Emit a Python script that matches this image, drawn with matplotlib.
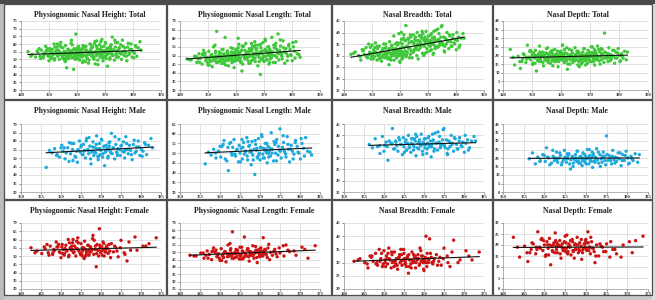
import numpy as np
import matplotlib
matplotlib.use("Agg")
import matplotlib.pyplot as plt
from matplotlib.patches import Rectangle

# ---------------- data ----------------
male_stature = [
    156.3, 157.1, 157.8, 158.4, 159.0, 159.6, 160.2, 160.5, 161.0, 161.7,
    162.1, 162.4, 162.9, 163.2, 163.5, 163.9, 164.1, 164.6, 164.8, 165.0,
    165.3, 165.6, 165.9, 166.1, 166.4, 166.7, 166.9, 167.2, 167.5, 167.8,
    168.0, 168.2, 168.5, 168.7, 168.9, 169.1, 169.3, 169.6, 169.8, 170.0,
    170.2, 170.4, 170.7, 170.9, 171.1, 171.3, 171.6, 171.8, 172.0, 172.3,
    172.6, 172.8, 173.1, 173.4, 173.7, 173.9, 174.2, 174.5, 174.8, 175.0,
    175.3, 175.6, 175.9, 176.2, 176.5, 176.8, 177.1, 177.4, 177.8, 178.1,
    178.5, 178.9, 179.3, 179.7, 180.1, 180.5, 180.9, 181.4, 181.9, 182.5,
    160.8, 163.0, 165.7, 167.0, 169.4, 171.5, 172.1, 174.0, 176.0, 182.9,
    158.9, 160.0, 161.3, 162.7, 163.7, 164.3, 165.1, 165.5, 166.3, 166.8,
    167.4, 167.9, 168.3, 168.8, 169.2, 169.7, 170.1, 170.5, 170.8, 171.2,
    171.7, 172.2, 172.5, 173.0, 173.5, 174.1, 174.6, 175.1, 175.8, 176.4,
    177.0, 177.6, 178.3, 178.8, 179.5, 180.3, 181.1, 162.0, 167.6, 171.9]

male_height = [
    44.5, 54.5, 53.0, 55.5, 52.0, 50.5, 57.5, 54.0, 49.5, 56.0,
    59.0, 52.5, 55.0, 58.5, 51.0, 54.0, 47.5, 60.0, 53.5, 56.5,
    52.0, 58.0, 54.5, 50.0, 61.5, 55.0, 52.5, 57.0, 46.5, 54.0,
    59.5, 51.5, 56.0, 53.0, 63.0, 55.5, 49.0, 58.5, 52.0, 54.5,
    60.5, 50.5, 56.5, 45.5, 53.5, 57.5, 55.0, 51.0, 59.0, 54.0,
    64.5, 52.5, 56.0, 49.5, 58.0, 53.5, 55.5, 61.0, 51.5, 57.0,
    54.0, 59.5, 50.0, 62.5, 55.0, 52.5, 57.5, 54.5, 49.0, 58.0,
    53.0, 56.5, 60.0, 51.5, 55.0, 54.0, 59.0, 52.0, 57.5, 61.5,
    56.0, 48.5, 54.0, 62.0, 51.0, 55.5, 57.0, 53.0, 54.5, 56.0,
    51.5, 56.0, 53.0, 58.5, 50.5, 55.0, 57.5, 52.0, 60.0, 54.5,
    49.5, 56.5, 53.5, 58.0, 51.0, 55.5, 61.0, 52.5, 57.0, 54.0,
    50.0, 59.5, 53.0, 56.0, 62.5, 51.5, 55.0, 57.5, 53.5, 58.5,
    55.0, 52.0, 60.5, 54.0, 56.5, 51.0, 58.0, 48.0, 53.5, 55.5]

male_length = [
    44.5, 50.5, 49.0, 52.0, 47.5, 51.0, 48.0, 53.5, 56.5, 46.0,
    41.0, 55.0, 50.0, 53.0, 57.0, 48.5, 51.5, 45.5, 54.0, 50.0,
    52.5, 47.0, 55.5, 49.5, 51.0, 58.0, 46.5, 53.5, 50.5, 44.0,
    56.0, 49.0, 52.0, 39.0, 54.5, 51.5, 48.0, 57.5, 50.0, 46.5,
    53.0, 59.5, 49.5, 52.5, 47.5, 55.0, 50.5, 45.0, 53.5, 51.0,
    48.5, 60.5, 52.0, 46.0, 54.5, 50.0, 57.0, 49.0, 51.5, 62.5,
    47.5, 53.0, 55.5, 50.5, 48.0, 58.5, 52.0, 45.5, 54.0, 51.0,
    49.5, 56.5, 53.5, 50.0, 47.0, 55.0, 52.5, 58.0, 51.0, 50.5,
    54.5, 49.0, 53.0, 56.0, 47.5, 52.0, 50.0, 55.5, 51.5, 49.0,
    50.0, 53.5, 47.0, 55.5, 49.5, 52.0, 45.5, 57.0, 51.0, 48.5,
    54.0, 50.5, 46.5, 56.5, 52.5, 49.0, 53.0, 58.5, 47.5, 51.5,
    55.0, 48.0, 52.5, 50.0, 56.0, 46.0, 53.5, 51.0, 59.0, 49.5,
    54.5, 52.0, 47.0, 55.5, 50.5, 57.5, 48.5, 53.0, 51.5, 50.0]

male_breadth = [
    36.0, 34.5, 38.5, 35.0, 32.0, 39.5, 35.5, 37.0, 29.0, 36.5,
    43.0, 34.0, 37.5, 35.5, 33.0, 38.0, 36.0, 31.5, 39.0, 35.0,
    37.0, 33.5, 36.5, 40.0, 34.5, 32.5, 38.5, 36.0, 35.0, 37.5,
    31.0, 39.5, 36.5, 34.0, 38.0, 35.5, 40.5, 33.0, 37.0, 36.0,
    34.5, 38.5, 32.0, 36.5, 39.0, 35.0, 37.5, 30.5, 36.0, 38.0,
    34.0, 41.0, 36.5, 33.5, 37.0, 39.5, 35.5, 36.0, 42.5, 43.0,
    34.5, 38.0, 31.5, 37.5, 35.0, 40.0, 36.5, 33.0, 38.5, 36.0,
    34.0, 39.0, 35.5, 37.0, 32.5, 36.5, 38.0, 34.5, 37.5, 39.5,
    35.0, 37.0, 33.5, 38.5, 36.0, 35.5, 40.5, 36.5, 34.0, 37.5,
    35.5, 33.0, 37.5, 34.0, 39.0, 36.0, 32.5, 38.0, 35.0, 36.5,
    33.5, 40.5, 34.5, 37.0, 35.5, 31.5, 38.5, 36.0, 34.0, 39.5,
    35.0, 37.5, 33.0, 36.5, 41.5, 34.5, 38.0, 35.5, 32.0, 37.0,
    36.0, 39.0, 34.0, 37.5, 35.0, 40.0, 33.5, 36.5, 38.5, 35.0]

male_depth = [
    19.5, 23.0, 16.5, 20.5, 18.5, 22.0, 18.0, 26.0, 20.0, 17.0,
    21.0, 18.5, 23.5, 17.5, 20.0, 21.5, 16.0, 19.0, 24.5, 20.5,
    17.5, 19.5, 22.5, 16.5, 19.0, 21.0, 15.0, 19.5, 22.0, 18.0,
    24.0, 18.5, 20.5, 17.0, 20.0, 15.5, 23.0, 19.0, 17.5, 21.0,
    19.5, 25.0, 16.5, 21.5, 18.5, 20.0, 14.5, 22.5, 18.0, 20.5,
    25.5, 19.0, 17.0, 22.0, 19.5, 17.5, 23.5, 21.0, 16.0, 33.0,
    18.5, 21.5, 20.0, 16.5, 24.5, 19.0, 20.5, 18.0, 23.0, 19.5,
    15.5, 22.0, 18.5, 24.0, 20.0, 17.0, 21.0, 18.5, 22.5, 17.5,
    20.5, 19.0, 21.5, 17.0, 19.5, 23.5, 18.0, 21.0, 18.5, 22.0,
    18.0, 21.5, 16.0, 20.0, 23.0, 17.5, 19.5, 22.5, 13.5, 20.5,
    19.0, 24.0, 17.0, 21.0, 18.5, 22.0, 16.5, 20.0, 25.0, 18.0,
    21.5, 17.5, 19.5, 23.5, 15.0, 20.5, 18.5, 22.0, 19.0, 21.0,
    17.0, 20.0, 23.0, 18.5, 21.5, 16.5, 19.5, 24.5, 20.0, 18.0]

female_stature = [
    142.5, 144.0, 145.2, 146.0, 146.8, 147.3, 147.9, 148.4, 148.8, 149.2,
    149.6, 150.0, 150.3, 150.6, 150.9, 151.2, 151.5, 151.8, 152.0, 152.3,
    152.6, 152.9, 153.1, 153.4, 153.7, 154.0, 154.2, 154.5, 154.8, 155.0,
    155.3, 155.6, 155.9, 156.1, 156.4, 156.7, 157.0, 157.3, 157.6, 157.9,
    158.2, 158.5, 158.8, 159.0, 159.3, 159.6, 159.9, 160.2, 160.5, 160.8,
    161.1, 161.4, 161.8, 162.2, 162.6, 163.1, 163.7, 164.3, 165.0, 165.8,
    166.5, 167.4, 168.5, 170.5, 172.0, 173.8, 149.0, 150.8, 152.5, 153.9,
    155.2, 156.9, 158.0, 159.4, 160.0, 161.0, 162.0, 151.0, 153.0, 155.8,
    157.5, 159.7, 146.5, 148.0, 150.2, 152.1, 154.4, 156.3, 158.6, 160.6,
    143.5, 145.8, 147.0, 148.2, 149.4, 150.4, 151.3, 151.9, 152.7, 153.3,
    153.8, 154.3, 154.9, 155.4, 155.7, 156.2, 156.8, 157.2, 157.8, 158.3,
    158.9, 159.2, 159.8, 160.3, 160.7, 161.2, 161.6, 162.4, 163.4, 164.0,
    164.8, 166.0, 167.0, 169.0, 171.2, 149.8, 152.8, 155.1, 157.4, 160.1]

female_height = [
    55.0, 53.0, 51.5, 54.5, 52.0, 56.0, 51.0, 53.5, 58.5, 55.5,
    52.5, 49.0, 57.0, 54.0, 51.5, 56.5, 53.0, 60.0, 50.5, 55.0,
    53.5, 58.0, 52.0, 56.0, 50.0, 54.5, 61.0, 53.0, 51.5, 57.5,
    55.0, 49.5, 59.0, 54.0, 52.5, 56.5, 50.5, 55.5, 53.0, 60.5,
    51.0, 54.0, 43.5, 57.0, 53.5, 66.5, 52.0, 55.5, 58.5, 50.0,
    54.5, 56.0, 51.5, 53.0, 57.5, 52.5, 55.0, 49.5, 59.5, 52.0,
    47.0, 53.5, 61.5, 56.0, 57.5, 61.0, 55.5, 50.5, 54.0, 59.0,
    51.0, 53.5, 62.5, 50.0, 55.5, 52.5, 57.0, 54.5, 60.0, 48.5,
    53.0, 56.5, 57.0, 52.0, 55.5, 58.0, 53.5, 51.0, 56.0, 54.0,
    52.0, 55.5, 50.5, 54.0, 57.0, 51.5, 53.5, 49.5, 56.0, 52.5,
    54.5, 58.0, 51.0, 53.0, 55.0, 50.0, 56.5, 52.0, 54.0, 59.5,
    51.5, 53.5, 55.5, 50.5, 57.5, 52.5, 54.5, 49.0, 56.0, 53.0,
    55.0, 51.0, 58.5, 53.5, 56.0, 52.0, 54.0, 50.5, 55.5, 53.0]

female_length = [
    48.0, 47.5, 49.5, 46.0, 51.0, 48.5, 45.0, 53.0, 50.0, 47.0,
    49.0, 44.5, 52.5, 48.0, 46.5, 50.5, 43.5, 49.0, 55.0, 47.5,
    51.5, 48.0, 64.0, 46.0, 50.0, 52.0, 47.0, 49.5, 45.5, 53.5,
    48.5, 51.0, 46.5, 60.5, 49.0, 47.5, 52.5, 44.0, 50.5, 48.0,
    54.5, 46.0, 49.5, 51.5, 43.0, 50.0, 47.5, 53.0, 48.5, 60.0,
    49.0, 51.5, 46.5, 55.5, 50.0, 48.0, 52.0, 47.0, 49.5, 54.5,
    55.0, 50.5, 51.0, 53.5, 46.0, 54.5, 51.5, 47.0, 56.0, 49.0,
    45.5, 52.5, 48.0, 50.5, 47.0, 51.0, 53.0, 49.5, 46.0, 50.0,
    48.5, 52.0, 48.0, 50.5, 44.5, 49.0, 51.5, 47.5, 50.0, 48.5,
    47.5, 49.5, 46.0, 51.0, 48.0, 44.5, 50.5, 47.0, 52.5, 49.0,
    46.5, 50.0, 48.5, 53.5, 45.5, 49.5, 51.5, 47.0, 50.0, 48.0,
    54.0, 46.5, 49.0, 51.0, 47.5, 52.0, 48.5, 45.0, 50.5, 49.0,
    53.0, 47.5, 51.5, 48.0, 52.0, 46.0, 49.5, 47.5, 50.5, 48.0]

female_breadth = [
    30.5, 31.5, 30.0, 28.0, 32.0, 30.5, 33.5, 29.0, 35.0, 31.5,
    28.5, 34.5, 30.0, 32.5, 29.5, 35.5, 31.0, 28.0, 33.0, 30.5,
    34.0, 29.5, 31.5, 27.5, 32.0, 30.0, 35.0, 29.0, 31.0, 33.5,
    30.5, 28.5, 32.5, 26.0, 31.0, 29.5, 34.0, 30.0, 32.0, 28.0,
    31.5, 33.0, 29.0, 35.5, 30.5, 32.5, 27.5, 31.0, 40.0, 33.5,
    30.0, 39.0, 32.0, 29.5, 31.5, 33.0, 30.5, 29.0, 35.5, 32.5,
    28.5, 38.5, 30.0, 34.5, 31.0, 34.0, 30.5, 31.5, 28.5, 33.0,
    29.5, 31.0, 30.0, 32.5, 27.0, 31.5, 30.0, 33.5, 29.0, 32.0,
    30.5, 31.0, 32.5, 29.5, 31.0, 30.0, 33.0, 28.5, 31.5, 30.0,
    31.0, 29.5, 32.5, 30.0, 33.5, 28.5, 31.5, 34.0, 30.5, 29.0,
    32.0, 30.5, 35.0, 29.5, 31.5, 33.0, 28.0, 30.5, 32.5, 31.0,
    29.5, 34.5, 30.0, 32.0, 28.5, 31.0, 33.5, 30.5, 29.0, 32.0,
    31.5, 30.0, 34.0, 31.0, 32.5, 29.5, 30.5, 31.5, 33.0, 30.0]

female_depth = [
    23.5, 14.5, 19.5, 12.5, 18.0, 20.5, 16.0, 26.0, 19.0, 22.5,
    17.5, 20.0, 15.0, 21.5, 18.5, 23.0, 11.0, 19.5, 17.0, 21.0,
    25.5, 18.0, 16.5, 20.0, 22.0, 14.0, 19.0, 17.5, 21.5, 24.0,
    18.5, 16.0, 20.5, 19.0, 15.5, 22.5, 17.0, 20.0, 18.0, 23.5,
    16.5, 21.0, 19.5, 13.5, 18.0, 20.5, 22.0, 17.5, 26.0, 19.0,
    16.0, 21.5, 18.5, 12.0, 20.0, 15.0, 19.5, 17.0, 20.5, 14.5,
    18.0, 16.0, 14.5, 21.5, 22.0, 24.0, 18.5, 20.0, 16.5, 19.5,
    21.0, 17.5, 20.0, 18.5, 22.5, 19.0, 17.0, 15.5, 21.0, 19.5,
    18.0, 20.5, 16.5, 19.0, 15.0, 20.0, 18.5, 22.0, 17.5, 21.0,
    19.0, 16.5, 21.0, 18.0, 23.0, 15.5, 20.0, 17.5, 22.0, 19.5,
    16.0, 20.5, 18.5, 24.5, 17.0, 19.5, 21.5, 14.0, 20.0, 18.0,
    22.5, 16.5, 19.0, 21.0, 17.5, 23.5, 18.5, 15.0, 20.5, 19.0,
    17.0, 21.5, 18.0, 20.0, 16.5, 22.0, 19.5, 17.0, 20.5, 18.5]

measures = ["Physiognomic Nasal Height", "Physiognomic Nasal Length",
            "Nasal Breadth", "Nasal Depth"]
groups = ["Total", "Male", "Female"]

# axis limits per group (x) and per group/measure (y)
x_limits = {"Total": (140, 190, 10), "Male": (150, 185, 5), "Female": (140, 175, 5)}
y_limits = {
    "Total":  [(30, 75), (30, 70), (15, 45), (0, 40)],
    "Male":   [(30, 70), (30, 65), (15, 45), (0, 40)],
    "Female": [(30, 70), (25, 70), (20, 45), (0, 30)],
}
group_colors = {"Total": "#3fc83a", "Male": "#1faadd", "Female": "#cc1414"}

male_vals = [male_height, male_length, male_breadth, male_depth]
female_vals = [female_height, female_length, female_breadth, female_depth]

# ---------------- layout (pixels) ----------------
W, H = 655, 300
fig = plt.figure(figsize=(W / 100, H / 100), dpi=100)
fig.patch.set_facecolor("white")

def fx(px):
    return px / W

def fy(py):
    return 1 - py / H

def add_rect(x0, y0, x1, y1, **kw):
    r = Rectangle((fx(x0), fy(y1)), (x1 - x0) / W, (y1 - y0) / H,
                  transform=fig.transFigure, **kw)
    fig.patches.append(r)

# frame
add_rect(0, 294, 655, 300, facecolor="#c9c9c9", edgecolor="none", zorder=-3)
add_rect(0, 0, 4, 300, facecolor="#bdbdbd", edgecolor="none", zorder=-3)
add_rect(652, 0, 655, 300, facecolor="#e0e0e0", edgecolor="none", zorder=-3)
add_rect(0, 0, 655, 4, facecolor="#4a4a4a", edgecolor="none", zorder=-3)

cells_x = [(4, 166), (167, 331), (332, 492), (493, 652)]
cells_y = [(4, 99), (100, 199), (200, 295)]
plot_x = [(21, 161), (180, 320), (344, 484), (503, 648)]
plot_y = [(21, 90), (124, 192), (223, 289)]

for r in range(3):
    for c in range(4):
        x0, x1 = cells_x[c]
        y0, y1 = cells_y[r]
        add_rect(x0, y0, x1, y1, facecolor="white", edgecolor="#4d4d4d",
                 linewidth=0.9, zorder=-2)

for r, grp in enumerate(groups):
    for c, meas in enumerate(measures):
        if grp == "Male":
            xs = np.array(male_stature)
            ys = np.array(male_vals[c])
        elif grp == "Female":
            xs = np.array(female_stature)
            ys = np.array(female_vals[c])
        else:
            xs = np.concatenate([male_stature, female_stature])
            ys = np.concatenate([male_vals[c], female_vals[c]])

        px0, px1 = plot_x[c]
        py0, py1 = plot_y[r]
        ax = fig.add_axes([fx(px0), fy(py1), (px1 - px0) / W, (py1 - py0) / H])
        ax.set_zorder(2)
        ax.set_facecolor("white")
        ax.scatter(xs, ys, s=6, color=group_colors[grp], edgecolors="none", zorder=3)
        k, b = np.polyfit(xs, ys, 1)
        xl = np.array([xs.min(), xs.max()])
        ax.plot(xl, k * xl + b, color="#111111", lw=0.8, zorder=4)

        xa, xb, xs_step = x_limits[grp]
        ya, yb = y_limits[grp][c]
        ax.set_xlim(xa, xb)
        ax.set_ylim(ya, yb)
        ax.set_xticks(np.arange(xa, xb + 0.1, xs_step))
        ax.set_yticks(np.arange(ya, yb + 0.1, 5))
        ax.grid(True, color="#d4d4d4", lw=0.5, zorder=0)
        ax.set_axisbelow(True)
        for s in ["top", "right"]:
            ax.spines[s].set_visible(False)
        for s in ["left", "bottom"]:
            ax.spines[s].set_color("#a6a6a6")
            ax.spines[s].set_linewidth(0.6)
        ax.tick_params(axis="both", labelsize=3.3, length=1.2, width=0.4, pad=1.2,
                       colors="#333333")
        for lab in ax.get_xticklabels() + ax.get_yticklabels():
            lab.set_family("Liberation Serif")
            lab.set_fontweight("bold")

        cx = (cells_x[c][0] + cells_x[c][1]) / 2 + 5
        fig.text(fx(cx), fy(cells_y[r][0] + 11), f"{meas}: {grp}", ha="center", va="center",
                 fontsize=5.6, fontweight="bold", family="Liberation Serif", color="#222222",
                 zorder=5)

fig.savefig("out.png", dpi=100)
